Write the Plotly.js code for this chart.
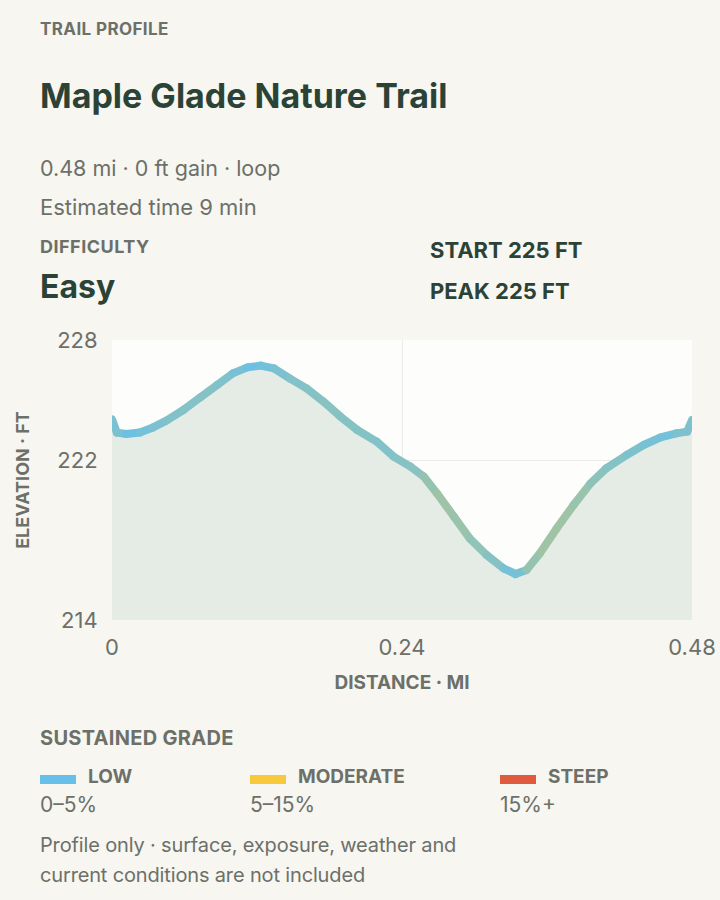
<!DOCTYPE html>
<html>
<head>
<meta charset="utf-8">
<script src="https://cdn.plot.ly/plotly-3.0.1.min.js"></script>
<style>
  html, body { margin:0; padding:0; background:#f7f6f1; }
  body { width:720px; height:900px; position:relative; overflow:hidden; font-family: Inter, "Noto Sans", sans-serif; }
  #chart { position:absolute; left:0; top:0; width:720px; height:900px; }
  .t { position:absolute; white-space:nowrap; line-height:1; }
  .g { color:#6c7069; }
  .d { color:#2b4336; }
  .b { font-weight:700; }
  .sw { position:absolute; width:36px; height:9px; }
  .js-line { stroke-linecap:round; stroke-linejoin:round; }
</style>
</head>
<body>
<div id="chart"></div>

<div class="t g b" style="left:40px;top:21px;font-size:17px;letter-spacing:0.4px;">TRAIL PROFILE</div>
<div class="t d b" style="left:40px;top:79px;font-size:34px;">Maple Glade Nature Trail</div>
<div class="t g" style="left:40px;top:158px;font-size:21.5px;">0.48 mi · 0 ft gain · loop</div>
<div class="t g" style="left:40px;top:196px;font-size:22px;">Estimated time 9 min</div>
<div class="t g b" style="left:40px;top:238px;font-size:18px;letter-spacing:0.5px;">DIFFICULTY</div>
<div class="t d b" style="left:40px;top:271px;font-size:32px;">Easy</div>
<div class="t d b" style="left:430px;top:239px;font-size:22px;">START 225 FT</div>
<div class="t d b" style="left:430px;top:280px;font-size:22px;">PEAK 225 FT</div>

<div class="t g b" style="left:40px;top:728px;font-size:20px;letter-spacing:0.3px;">SUSTAINED GRADE</div>
<div id="legend"></div>
<div class="t g" style="left:40px;top:835px;font-size:20px;letter-spacing:-0.15px;">Profile only · surface, exposure, weather and</div>
<div class="t g" style="left:40px;top:865px;font-size:20px;letter-spacing:-0.15px;">current conditions are not included</div>

<script>
// ---- data ----
const distanceMi = [0, 0.004, 0.012, 0.023, 0.034, 0.045, 0.059, 0.073, 0.087, 0.100,
  0.112, 0.123, 0.134, 0.147, 0.161, 0.175, 0.189, 0.203, 0.219, 0.233,
  0.247, 0.258, 0.269, 0.283, 0.296, 0.310, 0.324, 0.334, 0.343, 0.354,
  0.368, 0.382, 0.396, 0.409, 0.426, 0.440, 0.454, 0.467, 0.476, 0.480];
const elevationFt = [224.03, 223.37, 223.30, 223.37, 223.63, 223.97, 224.50, 225.13, 225.75, 226.33,
  226.63, 226.72, 226.58, 226.08, 225.58, 224.92, 224.17, 223.50, 222.92, 222.17,
  221.67, 221.17, 220.33, 219.17, 218.08, 217.25, 216.58, 216.30, 216.50, 217.33,
  218.58, 219.75, 220.83, 221.58, 222.25, 222.75, 223.13, 223.33, 223.42, 224.00];

const xTickVals = [0, 0.24, 0.48];
const xTickText = ['0', '0.24', '0.48'];
const yTickVals = [214, 222, 228];
const yTickText = ['214', '222', '228'];

const gradeNames = ['LOW', 'MODERATE', 'STEEP'];
const gradeRanges = ['0–5%', '5–15%', '15%+'];
const gradeColors = ['#66c0ea', '#f7c93b', '#e05a40'];

// ---- legend ----
const legendX = [40, 250, 500];
const leg = document.getElementById('legend');
gradeNames.forEach((n, i) => {
  const sw = document.createElement('div');
  sw.className = 'sw';
  sw.style.left = legendX[i] + 'px';
  sw.style.top = '775px';
  sw.style.background = gradeColors[i];
  leg.appendChild(sw);
  const lb = document.createElement('div');
  lb.className = 't g b';
  lb.style.left = (legendX[i] + 48) + 'px';
  lb.style.top = '767px';
  lb.style.fontSize = '19px';
  lb.textContent = n;
  leg.appendChild(lb);
  const rg = document.createElement('div');
  rg.className = 't g';
  rg.style.left = legendX[i] + 'px';
  rg.style.top = '794px';
  rg.style.fontSize = '21px';
  rg.textContent = gradeRanges[i];
  leg.appendChild(rg);
});

// ---- colour by sustained grade ----
function hexToRgb(h) { return [1,3,5].map(k => parseInt(h.slice(k, k+2), 16)); }
function mix(a, b, t) {
  const A = hexToRgb(a), B = hexToRgb(b);
  return 'rgb(' + A.map((v, k) => Math.round(v + (B[k] - v) * t)).join(',') + ')';
}
function segColor(i) {
  const m = (distanceMi[i] + distanceMi[i+1]) / 2;
  let j1 = 0, j2 = distanceMi.length - 1;
  for (let k = 0; k < distanceMi.length; k++) if (distanceMi[k] <= m - 0.012) j1 = k;
  for (let k = distanceMi.length - 1; k >= 0; k--) if (distanceMi[k] >= m + 0.012) j2 = k;
  const g = Math.abs(elevationFt[j2] - elevationFt[j1]) / ((distanceMi[j2] - distanceMi[j1]) * 5280) * 100;
  const t = Math.min(1, g / 4);
  return mix(gradeColors[0], gradeColors[1], t);
}

const traces = [{
  x: distanceMi, y: elevationFt, type: 'scatter', mode: 'lines',
  fill: 'tozeroy', fillcolor: '#e4ece5', line: {width: 0, color: 'rgba(0,0,0,0)'},
  hoverinfo: 'skip'
}];
for (let i = 0; i < distanceMi.length - 1; i++) {
  traces.push({
    x: [distanceMi[i], distanceMi[i+1]], y: [elevationFt[i], elevationFt[i+1]],
    type: 'scatter', mode: 'lines', line: {width: 8, color: segColor(i)}, hoverinfo: 'skip'
  });
}

const axisFont = {family: 'Inter, sans-serif', size: 22, color: '#6c7069'};

const layout = {
  width: 720, height: 900,
  margin: {l: 112, r: 28, t: 340, b: 280, pad: 0},
  paper_bgcolor: 'rgba(0,0,0,0)',
  plot_bgcolor: '#fdfdfb',
  showlegend: false,
  xaxis: {
    range: [0, 0.48], tickvals: xTickVals, ticktext: xTickText,
    showgrid: true, gridcolor: '#ecebe6', gridwidth: 1, zeroline: false, showline: false,
    ticks: 'outside', ticklen: 8, tickcolor: 'rgba(0,0,0,0)',
    tickfont: axisFont,
    title: {text: 'DISTANCE · MI', font: {family: 'Inter, sans-serif', size: 19, color: '#6c7069', weight: 700}, standoff: 16}
  },
  yaxis: {
    range: [214, 228], tickvals: yTickVals, ticktext: yTickText,
    showgrid: true, gridcolor: '#ecebe6', gridwidth: 1, zeroline: false, showline: false,
    ticks: 'outside', ticklen: 9, tickcolor: 'rgba(0,0,0,0)',
    tickfont: axisFont,
    title: {text: 'ELEVATION · FT', font: {family: 'Inter, sans-serif', size: 18, color: '#6c7069', weight: 700}, standoff: 22}
  }
};

Plotly.newPlot('chart', traces, layout, {staticPlot: true, displayModeBar: false});
</script>
</body>
</html>
